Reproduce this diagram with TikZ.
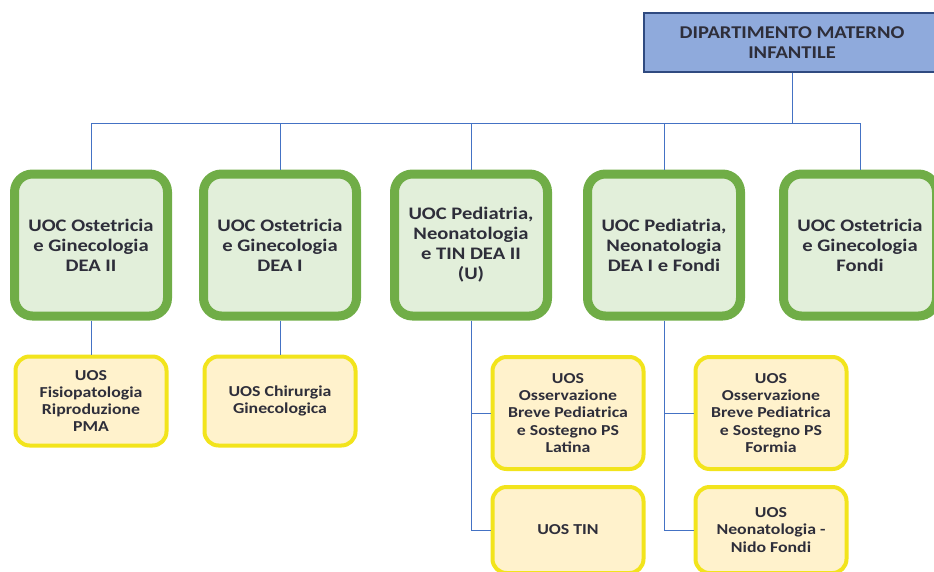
\documentclass[tikz,border=0pt]{standalone}
\usepackage{fontspec}
\setmainfont{Carlito}[FakeStretch=1.17]
\newfontfamily\deptfont{Carlito}[FakeStretch=1.14]
\usepackage{xcolor}
\usetikzlibrary{positioning}

\definecolor{textgray}{HTML}{2E2E3A}
\definecolor{deptblue}{HTML}{8FAADC}
\definecolor{deptline}{HTML}{2F4A80}
\definecolor{uocgreen}{HTML}{70AD47}
\definecolor{uocfill}{HTML}{E2EFDA}
\definecolor{uosyellow}{HTML}{F2E41C}
\definecolor{uosfill}{HTML}{FFF2CC}
\definecolor{linkblue}{HTML}{4472C4}

\begin{document}
\begin{tikzpicture}[
		x=1pt, y=-1pt,
		every node/.style={align=center, text=textgray},
		dept/.style={draw=deptline, fill=deptblue, line width=1.5pt,
			minimum width=296pt, minimum height=59pt,
			font=\deptfont\bfseries\fontsize{18}{20}\selectfont},
		uoc/.style={draw=uocgreen, fill=uocfill, line width=9pt, rounded corners=18pt,
			minimum width=153pt, minimum height=142pt,
			font=\bfseries\fontsize{17.6}{20}\selectfont},
		uos/.style={draw=uosyellow, fill=uosfill, line width=4pt, rounded corners=14pt,
			minimum width=151pt,
			font=\bfseries\fontsize{15.2}{17.2}\selectfont},
		link/.style={draw=linkblue, line width=1pt}
		]
		\useasboundingbox (0,0) rectangle (934,571);

		\node[dept] (dip) at (792,42.5) {DIPARTIMENTO MATERNO\\INFANTILE};

		\node[uoc] (og2) at (91,245) {UOC Ostetricia\\e Ginecologia\\DEA II};
		\node[uoc] (og1) at (280,245) {UOC Ostetricia\\e Ginecologia\\DEA I};
		\node[uoc] (pn2) at (471,245) {UOC Pediatria,\\Neonatologia\\e TIN DEA II\\(U)};
		\node[uoc] (pn1) at (664,245) {UOC Pediatria,\\Neonatologia\\DEA I e Fondi};
		\node[uoc] (ogf) at (860,245) {UOC Ostetricia\\e Ginecologia\\Fondi};

		\node[uos, minimum height=89pt] (pma) at (91,401) {UOS\\Fisiopatologia\\Riproduzione\\PMA};
		\node[uos, minimum height=89pt] (chir) at (280,401) {UOS Chirurgia\\Ginecologica};
		\node[uos, minimum height=112pt] (obpl) at (568,413) {UOS\\Osservazione\\Breve Pediatrica\\e Sostegno PS\\Latina};
		\node[uos, minimum height=86pt] (tin) at (568,530) {UOS TIN};
		\node[uos, minimum height=112pt] (obpf) at (771,413) {UOS\\Osservazione\\Breve Pediatrica\\e Sostegno PS\\Formia};
		\node[uos, minimum height=86pt] (nido) at (771,530) {UOS\\Neonatologia -\\Nido Fondi};

		\coordinate (bus) at (792,123);
		\draw[link] (dip.south) -- (bus);
		\foreach \u in {og2,og1,pn2,pn1,ogf}
			\draw[link] (bus) -| (\u.north);

		\draw[link] (og2.south) -- (pma.north);
		\draw[link] (og1.south) -- (chir.north);
		\foreach \u/\s in {pn2/obpl, pn2/tin, pn1/obpf, pn1/nido}
			\draw[link] (\u.south) |- (\s.west);
	\end{tikzpicture}
\end{document}
